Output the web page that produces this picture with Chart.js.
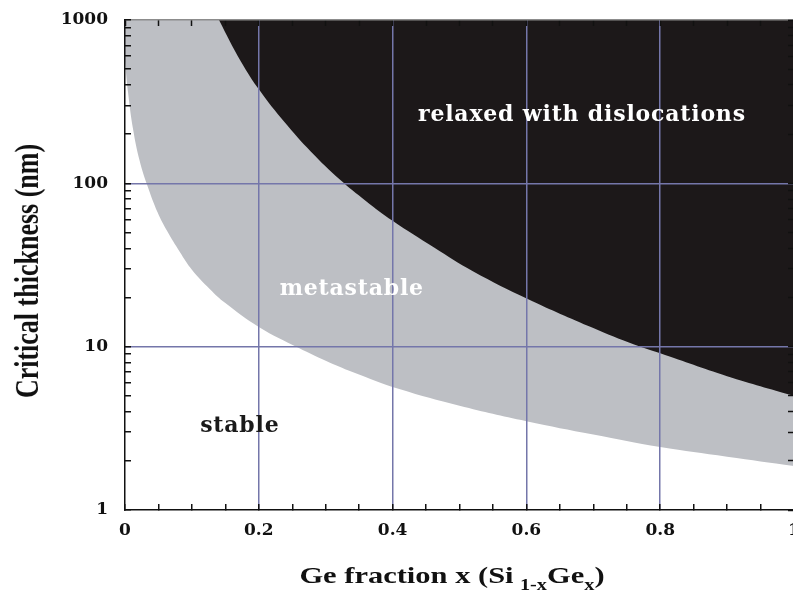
<!DOCTYPE html>
<html>
<head>
<meta charset="utf-8">
<script src="https://cdn.jsdelivr.net/npm/chart.js@4.4.1/dist/chart.umd.min.js"></script>
<style>
  body { margin: 0; background: #fff; overflow: hidden; }
  #wrap { position: relative; width: 800px; height: 593px; }
  .axis-title { position: absolute; font-family: "Liberation Serif", serif; font-weight: bold; color: #111; white-space: nowrap; text-align: center; }
  #xTitle { left: 252px; top: 561px; width: 400px; font-size: 24px; line-height: 28px; transform: scaleX(1.27); }
  #xTitle sub { font-size: 16px; line-height: 0; vertical-align: -7px; }
  #yTitle { left: -122px; top: 257px; width: 300px; font-size: 26px; line-height: 28px; transform: scaleX(1.27) rotate(-90deg); }
</style>
</head>
<body>
<div id="wrap">
  <canvas id="chart"></canvas>
  <div id="yTitle" class="axis-title">Critical thickness (nm)</div>
  <div id="xTitle" class="axis-title">Ge fraction x (Si<sub style="margin-left:5px">1-x</sub>Ge<sub>x</sub>)</div>
</div>
<script>
  // stable / metastable boundary
  const stableX = [0, 0.0045, 0.012, 0.022, 0.033, 0.049, 0.063, 0.082, 0.1, 0.127, 0.15, 0.2, 0.26, 0.3, 0.34, 0.41, 0.5, 0.6, 0.7, 0.8, 0.9, 1.0];
  const stableY = [560, 362, 215, 137, 98, 66, 51, 38, 29.6, 22.5, 18.5, 13.2, 9.8, 8.2, 7.0, 5.5, 4.35, 3.5, 2.9, 2.43, 2.12, 1.86];

  // metastable / relaxed boundary
  const relaxedX = [0.12, 0.1405, 0.173, 0.202, 0.238, 0.278, 0.3215, 0.36, 0.40, 0.462, 0.52, 0.602, 0.7, 0.761, 0.8, 0.9, 1.0];
  const relaxedY = [1490, 1000, 560, 367, 238, 156, 105, 78, 59, 40.5, 29, 19.6, 13, 10.3, 9.1, 6.6, 5.0];

  const xLabelValues = [0, 0.2, 0.4, 0.6, 0.8, 1];
  const yTickValues = [1, 2, 3, 4, 5, 6, 7, 8, 9, 10, 20, 30, 40, 50, 60, 70, 80, 90, 100, 200, 300, 400, 500, 600, 700, 800, 900, 1000];
  const yLabelValues = [1, 10, 100, 1000];

  const regionNames = ["relaxed with dislocations", "metastable", "stable"];
  const regionX = [0.683, 0.339, 0.1716];
  const regionY = [240, 20.6, 3.02];

  const gridBlue = "#7476aa";
  const tickFont = { family: "DejaVu Serif", size: 17, weight: "bold" };

  function isMajorX(v) {
    return xLabelValues.some(m => Math.abs(m - v) < 1e-6);
  }

  /* region captions drawn in data units */
  const regionLabels = {
    id: "regionLabels",
    afterDraw(chart) {
      const { ctx, scales } = chart;
      const colors = ["#ffffff", "#ffffff", "#1a1a1a"];
      ctx.save();
      ctx.font = 'bold 22px "DejaVu Serif"';
      ctx.letterSpacing = "0.8px";
      ctx.textAlign = "center";
      ctx.textBaseline = "alphabetic";
      regionNames.forEach((name, i) => {
        ctx.fillStyle = colors[i];
        ctx.fillText(name, scales.x.getPixelForValue(regionX[i]), scales.y.getPixelForValue(regionY[i]));
      });
      ctx.restore();
    }
  };

  const yTicks = (scale) => { scale.ticks = yTickValues.map(v => ({ value: v })); };

  new Chart(document.getElementById("chart"), {
    type: "line",
    data: {
      datasets: [
        {
          label: "relaxed",
          data: relaxedX.map((x, i) => ({ x: x, y: relaxedY[i] })),
          backgroundColor: "#1c1819",
          borderWidth: 0,
          pointRadius: 0,
          fill: "end",
          tension: 0.4
        },
        {
          label: "metastable",
          data: stableX.map((x, i) => ({ x: x, y: stableY[i] })),
          backgroundColor: "#bdbfc4",
          borderWidth: 0,
          pointRadius: 0,
          fill: "end",
          tension: 0.4
        }
      ]
    },
    options: {
      responsive: true,
      maintainAspectRatio: false,
      animation: false,
      layout: { padding: { top: 20, left: 0, right: 0, bottom: 0 } },
      plugins: { legend: { display: false }, tooltip: { enabled: false } },
      scales: {
        x: {
          type: "linear",
          position: "bottom",
          min: 0, max: 1,
          afterFit: (s) => { s.height = 83; s.paddingLeft = 0; s.paddingRight = 6; },
          ticks: {
            stepSize: 0.05,
            autoSkip: false,
            maxRotation: 0,
            padding: 16,
            color: "#111",
            font: tickFont,
            callback: (v) => isMajorX(v) ? String(Math.round(v * 10) / 10) : ""
          },
          grid: {
            z: 1,
            lineWidth: 1.5,
            color: (c) => (c.tick && isMajorX(c.tick.value) && c.tick.value > 0 && c.tick.value < 1) ? gridBlue : "rgba(0,0,0,0)",
            tickLength: -6,
            tickWidth: 1.5,
            tickColor: "#111"
          },
          border: { color: "#111", width: 1.5, z: 1 }
        },
        x2: {
          type: "linear",
          position: "top",
          min: 0, max: 1,
          afterFit: (s) => { s.height = 0; s.paddingLeft = 0; s.paddingRight = 0; },
          ticks: { display: false, stepSize: 0.05 },
          grid: { z: 1, drawOnChartArea: false, tickLength: -6, tickWidth: 1.5, tickColor: "#111" },
          border: { color: "#8c8c8c", width: 1.5, z: 1 }
        },
        y: {
          type: "logarithmic",
          position: "left",
          min: 1, max: 1000,
          afterBuildTicks: yTicks,
          afterFit: (s) => { s.width = 125; s.paddingTop = 0; s.paddingBottom = 0; },
          ticks: {
            autoSkip: false,
            padding: 23,
            color: "#111",
            font: tickFont,
            callback: (v) => yLabelValues.includes(v) ? String(v) : ""
          },
          grid: {
            z: 1,
            lineWidth: 1.5,
            color: (c) => (c.tick && (c.tick.value === 10 || c.tick.value === 100)) ? gridBlue : "rgba(0,0,0,0)",
            tickLength: -6,
            tickWidth: 1.5,
            tickColor: "#111"
          },
          border: { color: "#111", width: 1.5, z: 1 }
        },
        y2: {
          type: "logarithmic",
          position: "right",
          min: 1, max: 1000,
          afterBuildTicks: yTicks,
          afterFit: (s) => { s.width = 0; s.paddingTop = 0; s.paddingBottom = 0; },
          ticks: { display: false },
          grid: { z: 1, drawOnChartArea: false, tickLength: -6, tickWidth: 1.5, tickColor: "#111" },
          border: { display: false }
        }
      }
    },
    plugins: [regionLabels]
  });
</script>
</body>
</html>
